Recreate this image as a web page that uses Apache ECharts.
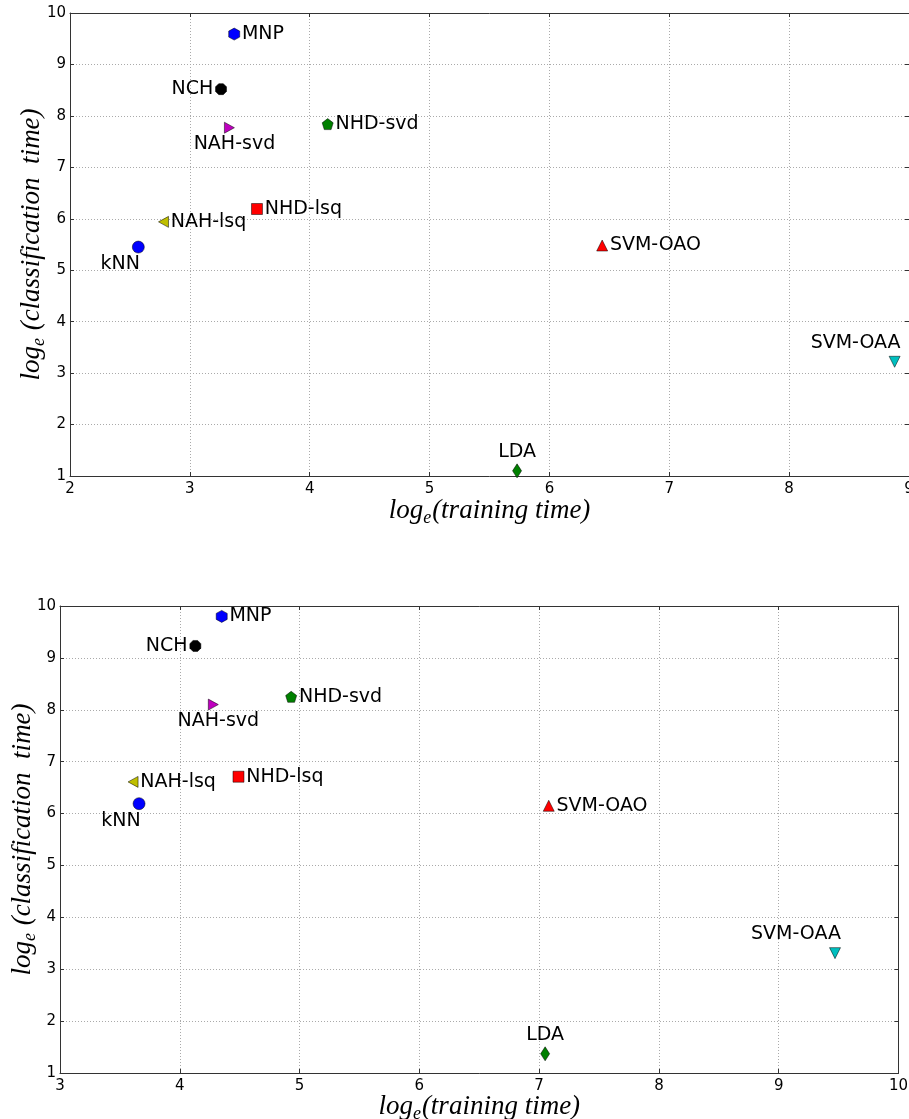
<!DOCTYPE html>
<html>
<head>
<meta charset="utf-8">
<script src="https://cdn.jsdelivr.net/npm/echarts@6/dist/echarts.min.js"></script>
<style>
html,body{margin:0;padding:0;background:#fff;}
#chart{width:909px;height:1119px;}
</style>
</head>
<body>
<div id="chart"></div>
<script>
// ---- data ----
const methods = ['kNN', 'MNP', 'NCH', 'NAH-svd', 'NHD-svd', 'NAH-lsq', 'NHD-lsq', 'SVM-OAO', 'SVM-OAA', 'LDA'];
const trainTop = [2.57, 3.37, 3.26, 3.33, 4.15, 2.78, 3.56, 6.44, 8.88, 5.73];
const classTop = [5.45, 9.59, 8.52, 7.77, 7.84, 5.94, 6.19, 5.48, 3.22, 1.10];
const trainBottom = [3.66, 4.35, 4.13, 4.28, 4.93, 3.61, 4.49, 7.08, 9.47, 7.05];
const classBottom = [6.19, 9.80, 9.23, 8.10, 8.25, 6.61, 6.71, 6.15, 3.31, 1.37];
const xRangeTop = [2, 9];
const yRangeTop = [1, 10];
const xRangeBottom = [3, 10];
const yRangeBottom = [1, 10];

// ---- styles ----
const P = {
  hex: 'path://M0,-1 L0.866,-0.5 L0.866,0.5 L0,1 L-0.866,0.5 L-0.866,-0.5 Z',
  oct: 'path://M-0.414,-1 L0.414,-1 L1,-0.414 L1,0.414 L0.414,1 L-0.414,1 L-1,0.414 L-1,-0.414 Z',
  tright: 'path://M-1,-1 L1,0 L-1,1 Z',
  tleft: 'path://M1,-1 L-1,0 L1,1 Z',
  tdown: 'path://M-1,-1 L1,-1 L0,1 Z',
  pent: 'path://M0,-1 L0.951,-0.309 L0.588,0.809 L-0.588,0.809 L-0.951,-0.309 Z'
};
const style = {
  'kNN':     {symbol: 'circle', size: 12, color: '#0000ff', pos: 'inside', off: [-18, 17]},
  'MNP':     {symbol: P.hex, size: [11, 12], color: '#0000ff', pos: 'right'},
  'NCH':     {symbol: P.oct, size: 11, color: '#000000', pos: 'left'},
  'NAH-svd': {symbol: P.tright, size: [10, 11], color: '#bf00bf', pos: 'inside', off: [5, 16]},
  'NHD-svd': {symbol: P.pent, size: 11, color: '#008000', pos: 'right'},
  'NAH-lsq': {symbol: P.tleft, size: [10, 11], color: '#bfbf00', pos: 'right'},
  'NHD-lsq': {symbol: 'rect', size: 11, color: '#ff0000', pos: 'right'},
  'SVM-OAO': {symbol: 'triangle', size: [11, 11], color: '#ff0000', pos: 'right'},
  'SVM-OAA': {symbol: P.tdown, size: [11, 11], color: '#00bfbf', pos: 'inside', off: [-39, -19]},
  'LDA':     {symbol: 'diamond', size: [9, 14], color: '#008000', pos: 'inside', off: [0, -19]}
};

const sans = 'DejaVu Sans';
const serif = 'Liberation Serif';

function buildData(xs, ys) {
  return methods.map((m, i) => {
    const s = style[m];
    const lab = {show: true, formatter: m, position: s.pos, distance: 2,
                 color: '#000', fontFamily: sans, fontSize: 19, opacity: 1};
    if (s.off) lab.offset = s.off;
    return {
      name: m,
      value: [xs[i], ys[i]],
      symbol: s.symbol,
      symbolSize: s.size,
      itemStyle: {color: s.color, borderColor: '#000', borderWidth: 0.5, opacity: 1},
      label: lab
    };
  });
}

const nameRich = {
  a: {fontFamily: serif, fontStyle: 'italic', fontSize: 27, color: '#000'},
  s: {fontFamily: serif, fontStyle: 'italic', fontSize: 18, color: '#000', padding: [14, 1, 0, 0]}
};

function mainX(gi, range, gap) {
  return {
    type: 'value', gridIndex: gi, min: range[0], max: range[1], interval: 1,
    name: '{a|log}{s|e}{a|(training time)}', nameLocation: 'middle', nameGap: gap,
    nameMoveOverlap: false,
    nameTextStyle: {rich: nameRich},
    axisLine: {show: true, lineStyle: {color: '#333', width: 1}},
    axisTick: {show: true, inside: true, length: 4, lineStyle: {color: '#333'}},
    axisLabel: {color: '#000', fontFamily: sans, fontSize: 15, margin: 6},
    splitLine: {show: true, lineStyle: {color: '#aaa', type: [1, 2], width: 1}}
  };
}
function mainY(gi, range, gap) {
  return {
    type: 'value', gridIndex: gi, min: range[0], max: range[1], interval: 1,
    name: '{a|log}{s|e}{a| (classification  time)}', nameLocation: 'middle', nameGap: gap,
    nameMoveOverlap: false,
    nameTextStyle: {rich: nameRich},
    axisLine: {show: true, lineStyle: {color: '#333', width: 1}},
    axisTick: {show: true, inside: true, length: 4, lineStyle: {color: '#333'}},
    axisLabel: {color: '#000', fontFamily: sans, fontSize: 15, margin: 4},
    splitLine: {show: true, lineStyle: {color: '#aaa', type: [1, 2], width: 1}}
  };
}
function secAxis(gi, range, position) {
  return {
    type: 'value', gridIndex: gi, min: range[0], max: range[1], interval: 1, position: position,
    axisLine: {show: true, lineStyle: {color: '#333', width: 1}},
    axisTick: {show: true, inside: true, length: 4, lineStyle: {color: '#333'}},
    axisLabel: {show: false},
    splitLine: {show: false}
  };
}

const chart = echarts.init(document.getElementById('chart'), null, {renderer: 'canvas'});
chart.setOption({
  animation: false,
  backgroundColor: '#fff',
  grid: [
    {left: 70, top: 13, width: 839, height: 463, show: false, outerBoundsMode: 'none', containLabel: false},
    {left: 60, top: 606, width: 838.5, height: 467, show: false, outerBoundsMode: 'none', containLabel: false}
  ],
  xAxis: [
    mainX(0, xRangeTop, 19),
    mainX(1, xRangeBottom, 18),
    secAxis(0, xRangeTop, 'top'),
    secAxis(1, xRangeBottom, 'top')
  ],
  yAxis: [
    mainY(0, yRangeTop, 22),
    mainY(1, yRangeBottom, 21),
    secAxis(0, yRangeTop, 'right'),
    secAxis(1, yRangeBottom, 'right')
  ],
  series: [
    {
      type: 'scatter', xAxisIndex: 0, yAxisIndex: 0,
      data: buildData(trainTop, classTop)
    },
    {
      type: 'scatter', xAxisIndex: 1, yAxisIndex: 1,
      data: buildData(trainBottom, classBottom)
    }
  ]
});
</script>
</body>
</html>
